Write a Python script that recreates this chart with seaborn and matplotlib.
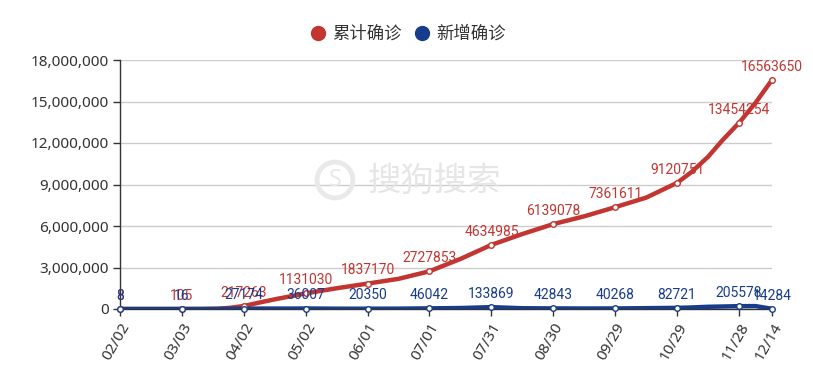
import matplotlib
matplotlib.use("Agg")
import matplotlib.pyplot as plt
import matplotlib.dates as mdates
from matplotlib.lines import Line2D
from matplotlib.ticker import FuncFormatter, MultipleLocator
import numpy as np
import pandas as pd
import seaborn as sns

# dates (2020), values estimated from the curves
dates = ["02/02", "02/17", "03/03", "03/13", "03/20", "03/26", "04/02", "04/10",
         "04/17", "04/24", "05/02", "05/17", "06/01", "06/16", "07/01", "07/16",
         "07/31", "08/15", "08/30", "09/14", "09/29", "10/14", "10/29", "11/05",
         "11/13", "11/20", "11/28", "12/06", "12/14"]
cumulative = [8, 15, 105, 1700, 19000, 80000, 217263, 480000,
              700000, 900000, 1131030, 1500000, 1837170, 2180000, 2727853, 3620000,
              4634985, 5420000, 6139078, 6700000, 7361611, 8050000, 9120751, 9900000,
              11000000, 12200000, 13454254, 14900000, 16563650]
new_cases = [8, 10, 16, 1500, 5000, 15000, 27174, 30000,
             30000, 28000, 36007, 22000, 20350, 25000, 46042, 70000,
             133869, 55000, 42843, 35000, 40268, 60000, 82721, 110000,
             160000, 180000, 205578, 210000, 14284]
label_dates = ["02/02", "03/03", "04/02", "05/02", "06/01", "07/01", "07/31",
               "08/30", "09/29", "10/29", "11/28", "12/14"]

names = ["累计确诊", "新增确诊"]
colors = ["#c23531", "#173c8c"]

df = pd.DataFrame({
    "date": pd.to_datetime(["2020/" + d for d in dates]),
    names[0]: cumulative,
    names[1]: new_cases,
})
long = df.melt(id_vars="date", var_name="series", value_name="value")
marks = df[df["date"].isin(pd.to_datetime(["2020/" + d for d in label_dates]))]

sns.set_theme(style="white")
plt.rcParams["font.family"] = ["Noto Sans", "Noto Sans CJK SC", "DejaVu Sans"]

fig = plt.figure(figsize=(8.13, 3.67), dpi=100)
ax = fig.add_axes([120 / 813, 58 / 367, 652 / 813, 249 / 367])

# watermark
fig.text(335 / 813, 1 - 180 / 367, "S", color="#e9e9e9", fontsize=17, fontweight="bold",
         ha="center", va="center",
         bbox=dict(boxstyle="circle,pad=0.25", fc="none", ec="#e9e9e9", lw=3.5))
fig.text(434 / 813, 1 - 181 / 367, "搜狗搜索", color="#e6e6e6", fontsize=24,
         family=["Noto Sans CJK SC"], ha="center", va="center")

sns.lineplot(data=long, x="date", y="value", hue="series", palette=colors,
             hue_order=names, linewidth=3.2, legend=False, ax=ax, zorder=3)

for name, c in zip(names, colors):
    ax.scatter(marks["date"], marks[name], s=16, facecolor="white", edgecolor=c,
               linewidth=1, zorder=4, clip_on=False)
    for d, v in zip(marks["date"], marks[name]):
        ax.annotate(str(v), (d, v), xytext=(0, 4.5), textcoords="offset points",
                    ha="center", va="bottom", color=c, fontsize=10,
                    family="Roboto", zorder=5, annotation_clip=False)

ax.set_xlim(df["date"].iloc[0], df["date"].iloc[-1])
ax.set_ylim(0, 18000000)
ax.yaxis.set_major_locator(MultipleLocator(3000000))
ax.yaxis.set_major_formatter(FuncFormatter(lambda v, p: f"{v:,.0f}"))
ax.set_xticks(pd.to_datetime(["2020/" + d for d in label_dates]))
ax.xaxis.set_major_formatter(mdates.DateFormatter("%m/%d"))
plt.setp(ax.get_xticklabels(), rotation=60, ha="right", va="top",
         rotation_mode="anchor")
ax.tick_params(axis="both", length=5, width=1, color="#333333", labelcolor="#333333",
               labelsize=11, pad=3, left=True, bottom=True)
ax.yaxis.grid(True, color="#cccccc", linewidth=1)
ax.set_axisbelow(True)
ax.set_xlabel("")
ax.set_ylabel("")
sns.despine(ax=ax)
for s in ["left", "bottom"]:
    ax.spines[s].set_color("#333333")
    ax.spines[s].set_linewidth(1)

handles = [Line2D([], [], linestyle="", marker="o", markersize=10, color=c) for c in colors]
fig.legend(handles, names, loc="center", bbox_to_anchor=(0.5, 1 - 34 / 367), ncol=2,
           frameon=False, fontsize=12.5, handletextpad=0.2, columnspacing=0.6,
           handlelength=1.2, labelcolor="#333333")

fig.savefig("out.png", dpi=100)
